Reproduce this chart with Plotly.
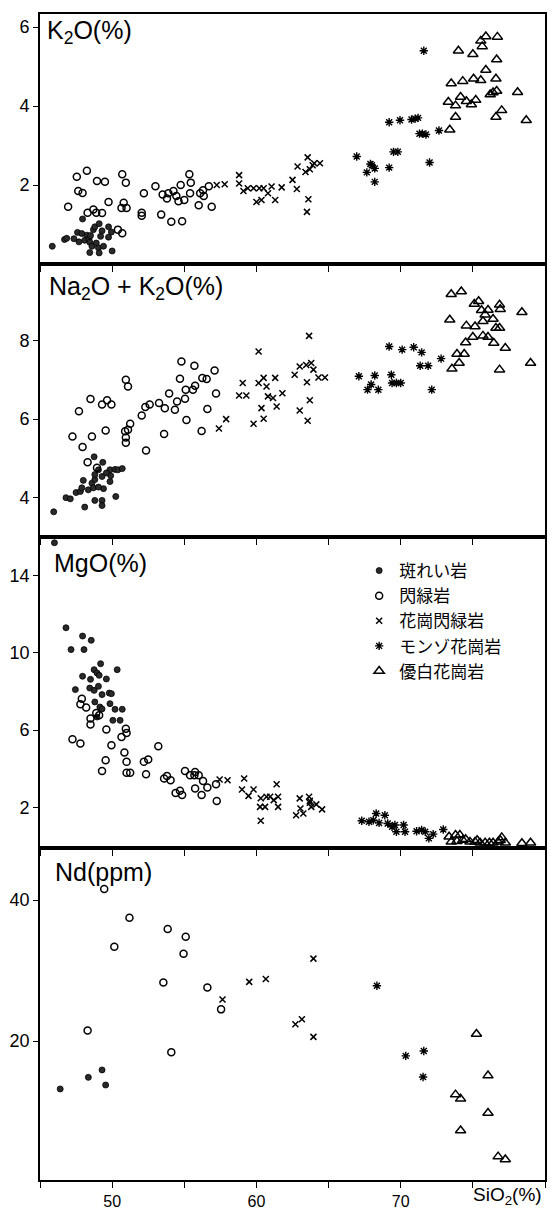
import plotly.graph_objects as go

# ---------------- data (SiO2 %, value) ----------------
names = ["斑れい岩", "閃緑岩", "花崗閃緑岩", "モンゾ花崗岩", "優白花崗岩"]

# Panel 1: K2O (%)
gab_k_si = [45.85, 46.7, 46.85, 47.35, 47.6, 47.9, 47.95, 47.7, 48.1, 48.25, 48.4, 48.5, 48.45, 48.7, 48.8, 49.1, 49.3, 48.9, 49.05, 48.45, 49.1, 49.4, 49.75, 49.75, 50.0, 49.95, 48.6, 49.2]
gab_k = [0.45, 0.62, 0.65, 0.64, 0.8, 0.77, 1.14, 0.56, 0.6, 0.73, 0.63, 0.72, 0.55, 0.87, 0.94, 1.02, 0.84, 0.53, 0.41, 0.29, 0.28, 0.45, 0.94, 0.68, 0.33, 0.81, 0.45, 0.7]
dio_k_si = [46.95, 47.55, 48.25, 47.65, 47.95, 48.3, 48.7, 48.9, 49.3, 48.95, 49.5, 49.75, 50.7, 50.95, 50.8, 50.65, 51.0, 50.4, 50.7, 52.05, 52.05, 52.2, 53.0, 53.4, 53.5, 53.8, 53.9, 54.25, 54.1, 54.45, 54.6, 54.85, 54.75, 55.0, 55.35, 55.45, 55.4, 56.0, 56.1, 56.3, 56.35, 56.7, 56.9]
dio_k = [1.45, 2.21, 2.36, 1.85, 1.8, 1.3, 1.38, 1.3, 1.29, 2.1, 2.08, 1.57, 2.27, 2.06, 1.55, 1.42, 1.42, 0.87, 0.78, 1.3, 1.22, 1.79, 1.97, 1.25, 1.76, 1.66, 1.79, 1.85, 1.07, 1.72, 1.59, 1.08, 2.0, 1.62, 2.27, 2.06, 1.79, 1.49, 1.79, 1.87, 1.72, 1.97, 1.45]
grd_k_si = [57.25, 57.8, 58.8, 58.8, 59.1, 59.4, 59.8, 60.2, 60.5, 60.8, 61.05, 60.0, 60.35, 61.3, 61.75, 62.5, 62.8, 62.85, 63.55, 63.4, 63.7, 63.9, 64.0, 64.4, 63.6, 63.5]
grd_k = [2.0, 2.02, 2.25, 2.04, 1.85, 1.92, 1.92, 1.92, 1.92, 1.79, 1.96, 1.57, 1.62, 1.62, 1.94, 2.13, 1.9, 2.47, 2.7, 2.33, 2.4, 2.5, 2.55, 2.55, 1.64, 1.32]
mzg_k_si = [66.95, 67.65, 67.9, 68.0, 68.2, 68.2, 69.2, 69.2, 69.95, 70.75, 71.0, 71.2, 71.3, 71.5, 71.75, 69.5, 69.8, 72.0, 71.6, 72.65]
mzg_k = [2.72, 2.32, 2.53, 2.5, 2.42, 2.08, 2.44, 3.59, 3.64, 3.66, 3.68, 3.7, 3.3, 3.3, 3.28, 2.84, 2.84, 2.57, 5.4, 3.38]
leu_k_si = [73.4, 73.5, 73.8, 73.3, 73.8, 74.15, 74.3, 74.0, 74.55, 74.9, 75.2, 75.0, 75.05, 75.55, 75.55, 75.9, 75.65, 75.9, 76.2, 76.4, 76.65, 76.6, 76.65, 76.7, 76.6, 77.0, 78.1, 78.7]
leu_k = [3.4, 4.57, 3.72, 4.1, 4.01, 4.23, 4.63, 5.4, 4.12, 4.04, 4.15, 5.31, 4.69, 4.65, 5.65, 5.76, 5.51, 4.91, 4.29, 4.34, 4.38, 4.69, 5.18, 5.75, 3.72, 3.89, 4.35, 3.64]

# Panel 2: Na2O + K2O (%)
gab_a_si = [45.95, 46.8, 47.1, 47.5, 47.8, 48.1, 48.0, 47.9, 48.35, 48.75, 48.8, 48.6, 48.8, 48.8, 49.05, 49.3, 49.3, 49.35, 49.4, 49.3, 49.85, 49.9, 49.85, 50.2, 50.4, 50.7, 50.25, 48.7, 49.05, 49.6]
gab_a = [3.64, 4.0, 3.97, 4.13, 4.16, 3.76, 4.44, 4.25, 4.2, 5.04, 3.93, 4.37, 4.46, 4.59, 4.71, 3.93, 3.8, 4.9, 4.23, 4.54, 4.41, 4.56, 4.71, 4.72, 4.71, 4.74, 4.03, 4.25, 4.27, 4.63]
dio_a_si = [47.25, 47.7, 47.95, 48.3, 48.5, 48.6, 48.95, 49.3, 49.55, 49.65, 49.95, 50.95, 51.1, 50.9, 51.1, 50.95, 50.95, 51.25, 52.05, 52.3, 52.6, 52.35, 53.25, 53.65, 53.6, 53.95, 54.35, 54.5, 54.7, 54.8, 55.05, 55.1, 55.15, 55.6, 55.75, 55.7, 56.2, 56.25, 56.55, 56.6, 57.1, 57.2]
dio_a = [5.56, 6.2, 5.29, 4.9, 6.51, 5.56, 4.76, 6.37, 5.71, 6.48, 6.37, 7.0, 6.83, 5.69, 5.73, 5.53, 5.4, 5.88, 6.09, 6.31, 6.37, 5.2, 6.41, 6.28, 5.62, 6.65, 6.24, 6.45, 7.03, 7.47, 6.52, 6.75, 5.98, 6.75, 6.85, 7.36, 5.7, 7.05, 7.02, 6.26, 7.24, 6.65]
grd_a_si = [57.4, 57.9, 58.8, 59.3, 59.05, 59.8, 60.15, 60.15, 60.5, 60.7, 60.8, 61.15, 60.35, 60.5, 61.3, 61.4, 61.8, 62.65, 63.0, 63.45, 63.65, 63.8, 63.95, 63.5, 64.3, 64.75, 63.7, 63.0, 63.55]
grd_a = [5.76, 6.0, 6.6, 6.6, 6.92, 5.88, 7.72, 6.92, 7.05, 6.83, 6.58, 6.54, 6.28, 6.01, 7.05, 6.32, 6.66, 7.13, 7.34, 7.38, 8.12, 7.43, 7.26, 6.94, 7.06, 7.06, 6.48, 6.22, 5.96]
mzg_a_si = [67.1, 67.7, 67.95, 68.2, 68.45, 69.2, 69.35, 69.4, 69.7, 70.0, 70.1, 70.9, 71.45, 71.35, 71.9, 72.15, 72.8]
mzg_a = [7.09, 6.75, 6.88, 7.11, 6.75, 7.85, 7.13, 6.92, 6.92, 6.92, 7.77, 7.83, 7.7, 7.36, 7.36, 6.75, 7.54]
leu_a_si = [73.5, 74.2, 73.4, 73.55, 74.05, 73.9, 74.4, 74.5, 74.55, 75.0, 75.15, 75.1, 75.4, 75.6, 75.7, 75.7, 75.85, 76.05, 76.05, 76.4, 76.45, 76.6, 76.85, 76.85, 76.9, 76.85, 77.25, 78.4, 79.0]
leu_a = [9.18, 9.25, 8.53, 7.28, 7.43, 7.66, 7.66, 7.95, 8.38, 8.09, 8.36, 8.93, 9.0, 8.77, 8.49, 8.12, 8.66, 8.78, 8.09, 8.55, 7.94, 8.32, 8.32, 8.91, 8.8, 7.26, 7.81, 8.72, 7.43]

# Panel 3: MgO (%)
gab_m_si = [46.0, 46.8, 47.15, 47.95, 48.05, 48.55, 47.45, 47.95, 48.45, 48.5, 48.75, 48.95, 49.1, 48.75, 49.05, 49.2, 49.6, 50.35, 48.8, 49.3, 49.8, 49.95, 49.15, 48.95, 49.85, 50.2, 50.7, 50.05, 50.55, 49.3]
gab_m = [15.7, 11.3, 10.17, 10.87, 10.17, 10.65, 8.1, 8.79, 8.18, 8.63, 9.13, 8.96, 8.84, 8.06, 8.27, 9.44, 8.65, 9.13, 7.46, 7.84, 7.92, 7.89, 7.2, 6.68, 7.37, 7.08, 7.08, 6.51, 6.51, 7.1]
dio_m_si = [47.9, 47.8, 48.2, 48.5, 48.5, 48.9, 49.1, 47.25, 47.8, 49.6, 49.95, 49.55, 49.3, 50.65, 50.95, 51.0, 50.85, 51.0, 51.0, 51.25, 52.2, 52.5, 52.35, 53.2, 53.6, 53.8, 54.05, 54.4, 54.7, 54.85, 55.05, 55.4, 55.7, 55.75, 56.0, 55.75, 56.2, 56.3, 56.6, 57.2, 57.25]
dio_m = [7.63, 7.34, 7.17, 6.6, 6.3, 6.89, 6.77, 5.53, 5.31, 6.03, 5.22, 4.44, 3.89, 5.65, 6.08, 5.86, 4.84, 4.36, 3.8, 3.8, 4.36, 4.48, 3.72, 5.17, 3.5, 3.63, 3.41, 2.75, 2.86, 2.64, 3.89, 3.67, 3.67, 3.84, 3.67, 2.98, 2.64, 3.37, 3.03, 3.2, 2.34]
grd_m_si = [57.45, 58.0, 59.15, 59.0, 59.8, 59.45, 60.3, 60.7, 60.95, 61.2, 60.25, 60.6, 60.3, 61.4, 61.5, 61.5, 63.0, 63.05, 63.65, 63.7, 64.15, 64.55, 62.75, 63.25, 63.7, 63.8]
grd_m = [3.45, 3.41, 3.5, 2.93, 2.93, 2.6, 2.48, 2.55, 2.55, 2.38, 2.03, 2.03, 1.31, 3.2, 2.55, 2.03, 2.47, 1.95, 2.55, 2.24, 2.16, 1.9, 1.6, 1.69, 2.34, 2.03]
mzg_m_si = [67.3, 67.8, 68.1, 68.3, 68.5, 68.9, 69.1, 69.4, 69.6, 69.7, 70.2, 70.3, 71.1, 71.45, 71.7, 71.95, 72.25, 72.95]
mzg_m = [1.31, 1.26, 1.34, 1.69, 1.2, 1.6, 1.17, 1.0, 1.09, 0.74, 1.09, 0.74, 0.77, 0.83, 0.74, 0.4, 0.62, 0.86]
leu_m_si = [73.35, 73.5, 73.8, 73.9, 74.1, 74.3, 74.5, 74.8, 75.15, 75.3, 75.5, 75.85, 76.15, 76.4, 76.75, 76.9, 77.0, 77.25, 78.4, 79.0]
leu_m = [0.48, 0.22, 0.57, 0.25, 0.57, 0.31, 0.35, 0.22, 0.22, 0.3, 0.17, 0.17, 0.17, 0.17, 0.22, 0.3, 0.45, 0.17, 0.15, 0.17]

# Panel 4: Nd (ppm)
gab_n_si = [46.4, 48.35, 49.3, 49.55]
gab_n = [13.2, 14.85, 15.9, 13.76]
dio_n_si = [49.45, 51.2, 50.15, 53.85, 55.1, 54.95, 53.55, 56.6, 57.55, 48.3, 54.1]
dio_n = [41.6, 37.5, 33.4, 35.9, 34.8, 32.4, 28.3, 27.6, 24.5, 21.5, 18.4]
grd_n_si = [57.65, 59.5, 60.65, 63.95, 62.7, 63.15, 63.95]
grd_n = [25.9, 28.4, 28.8, 31.7, 22.4, 23.1, 20.6]
mzg_n_si = [68.35, 70.35, 71.6, 71.55]
mzg_n = [27.85, 17.9, 18.6, 14.9]
leu_n_si = [75.25, 76.05, 73.8, 74.15, 76.05, 74.15, 76.75, 77.25]
leu_n = [21.0, 15.1, 12.4, 11.8, 9.8, 7.3, 3.6, 3.2]

panel_titles = ["K<sub>2</sub>O(%)", "Na<sub>2</sub>O + K<sub>2</sub>O(%)", "MgO(%)", "Nd(ppm)"]
x_label_ticks = [50, 60, 70]
y_ticks = [[2, 4, 6], [4, 6, 8], [2, 6, 10, 14], [20, 40]]

# ---------------- styling ----------------
marker_styles = [
    dict(symbol="circle", size=6, color="#2a2a2a", line=dict(color="black", width=0.8)),
    dict(symbol="circle-open", size=7, color="black", line=dict(width=1.5)),
    dict(symbol="x-thin-open", size=6, color="black", line=dict(width=1.5)),
    dict(symbol="asterisk-open", size=7, color="black", line=dict(width=1.4)),
    dict(symbol="triangle-up-open", size=9, color="black", line=dict(width=1.5)),
]

panels = [
    [(gab_k_si, gab_k), (dio_k_si, dio_k), (grd_k_si, grd_k), (mzg_k_si, mzg_k), (leu_k_si, leu_k)],
    [(gab_a_si, gab_a), (dio_a_si, dio_a), (grd_a_si, grd_a), (mzg_a_si, mzg_a), (leu_a_si, leu_a)],
    [(gab_m_si, gab_m), (dio_m_si, dio_m), (grd_m_si, grd_m), (mzg_m_si, mzg_m), (leu_m_si, leu_m)],
    [(gab_n_si, gab_n), (dio_n_si, dio_n), (grd_n_si, grd_n), (mzg_n_si, mzg_n), (leu_n_si, leu_n)],
]

y_ranges = [[0, 6.33], [3.0, 9.95], [-0.1, 16.0], [0.28, 47.4]]
# domains from top to bottom (paper fractions)
domains = [[0.7856, 1.0], [0.5515, 0.7856], [0.2847, 0.5515], [0.0, 0.2847]]

fig = go.Figure()

for p, series in enumerate(panels):
    xa = "x" if p == 0 else f"x{p+1}"
    ya = "y" if p == 0 else f"y{p+1}"
    for k, (sx, sy) in enumerate(series):
        fig.add_trace(go.Scatter(
            x=sx, y=sy, mode="markers", xaxis=xa, yaxis=ya,
            name=names[k], legendgroup=names[k], showlegend=(p == 0),
            marker=marker_styles[k], hoverinfo="skip",
        ))

axis_font = dict(family="Liberation Sans, Arial, sans-serif", size=18, color="black")
xtick_font = dict(family="Liberation Sans, Arial, sans-serif", size=16, color="black")
layout = dict(
    width=556, height=1209,
    margin=dict(l=40, r=11, t=14, b=29, autoexpand=False),
    paper_bgcolor="white", plot_bgcolor="white",
    font=axis_font,
    legend=dict(
        x=0.632, y=0.5377, xanchor="left", yanchor="top",
        font=dict(family="Noto Sans CJK JP", size=17, color="black"),
        bgcolor="rgba(0,0,0,0)", borderwidth=0, tracegroupgap=0,
        itemsizing="trace",
    ),
)

minor_ticks = dict(tickmode="linear", tick0=45, dtick=5, ticks="outside",
                   ticklen=6, tickwidth=1.3, tickcolor="black", showgrid=False)

for p in range(4):
    xkey = "xaxis" if p == 0 else f"xaxis{p+1}"
    ykey = "yaxis" if p == 0 else f"yaxis{p+1}"
    ya = "y" if p == 0 else f"y{p+1}"
    xa = "x" if p == 0 else f"x{p+1}"
    layout[xkey] = dict(
        domain=[0, 1], anchor=ya, range=[45, 80],
        tickmode="array", tickvals=x_label_ticks,
        showticklabels=(p == 3), ticks="outside", ticklen=6, tickwidth=1.3,
        tickcolor="black", minor=minor_ticks,
        showline=True, linecolor="black", linewidth=1.6,
        mirror=True, showgrid=False, zeroline=False, automargin=False,
        tickfont=xtick_font,
    )
    layout[ykey] = dict(
        domain=domains[p], anchor=xa, range=y_ranges[p],
        tickmode="array", tickvals=y_ticks[p],
        ticks="outside", ticklen=5, tickwidth=1.3, tickcolor="black",
        showline=True, linecolor="black", linewidth=1.6, mirror=True,
        showgrid=False, zeroline=False, automargin=False, tickfont=axis_font,
    )

fig.update_layout(**layout)

# panel titles
title_pos = [(0.010, 0.928), (0.014, 0.912), (0.024, 0.916), (0.026, 0.928)]
for p, txt in enumerate(panel_titles):
    xa = "x" if p == 0 else f"x{p+1}"
    ya = "y" if p == 0 else f"y{p+1}"
    fig.add_annotation(
        text=txt, xref=f"{xa} domain", yref=f"{ya} domain",
        x=title_pos[p][0], y=title_pos[p][1], xanchor="left", yanchor="middle",
        showarrow=False,
        font=dict(family="Liberation Sans, Arial, sans-serif", size=25, color="black"),
    )

# x-axis title placed at the end of the axis
fig.add_annotation(
    text="SiO<sub>2</sub>(%)", xref="x4", yref="paper", x=74.9, y=0,
    xanchor="left", yanchor="top", yshift=-2, showarrow=False,
    font=dict(family="Liberation Sans, Arial, sans-serif", size=19, color="black"),
)

# remove the default page margin so the figure fills the window exactly
fig.write_html(
    "out.html",
    config={"displayModeBar": False},
    post_script="document.body.style.margin='0';",
)
